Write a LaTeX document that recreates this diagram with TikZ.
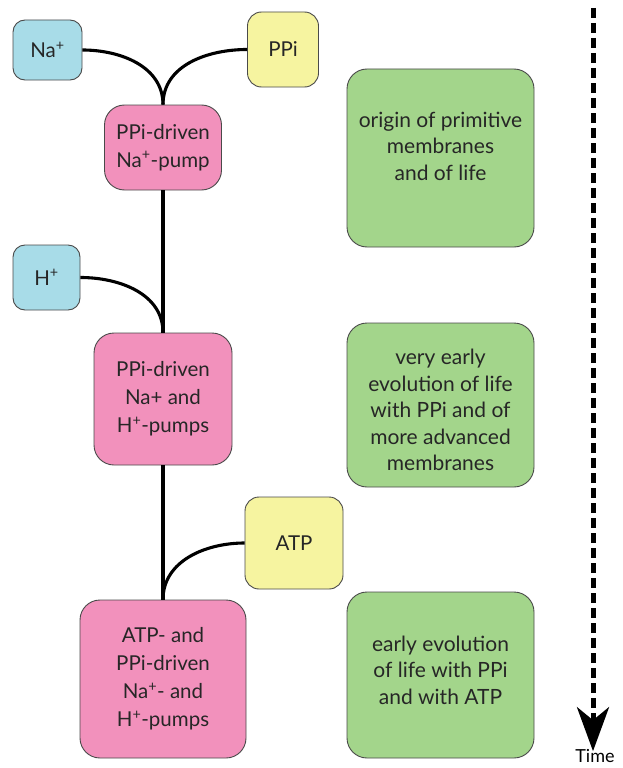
\documentclass[tikz,border=0pt]{standalone}
\usepackage{fontspec}
\setmainfont{Lato}
\usetikzlibrary{arrows.meta}
\definecolor{ionblue}{HTML}{A8DCE8}
\definecolor{pumppink}{HTML}{F291BC}
\definecolor{subyellow}{HTML}{F6F4A0}
\definecolor{eragreen}{HTML}{A3D58B}
\definecolor{edgegray}{HTML}{4A4A4A}
\tikzset{
  box/.style={draw=edgegray, line width=0.9pt, align=center, inner sep=0pt,
    font=\fontsize{20.5}{28}\selectfont, text=black!85},
  ionbox/.style={box, fill=ionblue, rounded corners=12pt},
  subbox/.style={box, fill=subyellow, rounded corners=14pt},
  pumpbox/.style={box, fill=pumppink, rounded corners=20pt},
  erabox/.style={box, fill=eragreen, rounded corners=20pt, minimum width=187pt},
  eratext/.style={align=center, inner sep=0pt, font=\fontsize{21}{26.5}\selectfont, text=black!85},
  link/.style={line width=3.1pt, black},
}
\newcommand{\plus}{\textsuperscript{+}}
\begin{document}
\begin{tikzpicture}[x=1pt,y=-1pt]
\useasboundingbox[fill=white] (0,0) rectangle (623,768);
% ions and substrates
\node[ionbox, minimum width=69pt, minimum height=60pt] (na) at (47.5,50) {Na\plus};
\node[subbox, minimum width=71pt, minimum height=75pt] (ppi) at (283,49.5) {PPi};
\node[ionbox, minimum width=67pt, minimum height=65pt] (h) at (46.5,277.5) {H\plus};
\node[subbox, minimum width=98pt, minimum height=92pt] (atp) at (294,543) {ATP};
% pumps
\node[pumpbox, minimum width=117pt, minimum height=85pt] (p1) at (163,147.5) {PPi-driven\\Na\plus-pump};
\node[pumpbox, minimum width=138pt, minimum height=132pt] (p2) at (163,399) {PPi-driven\\Na+ and\\H\plus-pumps};
\node[pumpbox, minimum width=166pt, minimum height=158pt] (p3) at (163,679) {ATP- and\\PPi-driven\\Na\plus- and\\H\plus-pumps};
% eras
\node[erabox, minimum height=178pt] (g1) at (440.5,158) {};
\node[eratext] (g1t) at (440.5,146) {origin of primitive\\membranes\\and of life};
\node[erabox, minimum height=164pt] (g2) at (440.5,405) {};
\node[eratext] (g2t) at (440.5,410) {very early\\evolution of life\\with PPi and of\\more advanced\\membranes};
\node[erabox, minimum height=166pt] (g3) at (440.5,675) {};
\node[eratext] (g3t) at (440.5,670) {early evolution\\of life with PPi\\and with ATP};
% connectors
\draw[link] (na.east) to[out=0,in=90] (p1.north);
\draw[link] (ppi.west) to[out=180,in=90] (p1.north);
\draw[link] (p1.south) -- (p2.north);
\draw[link] (h.east) to[out=0,in=90] (p2.north);
\draw[link] (p2.south) -- (p3.north);
\draw[link] (atp.west) to[out=180,in=90] (p3.north);
% time arrow
\coordinate (tstart) at (593,8);
\node[inner sep=0pt, font=\fontsize{18}{21}\selectfont] (time) at (595,756) {Time};
\draw[line width=5pt, dash pattern=on 10pt off 5pt,
  -{Stealth[length=44pt, width=32pt, inset=13pt]}] (tstart) -- ([xshift=-2pt,yshift=-2pt]time.north);
\end{tikzpicture}
\end{document}
